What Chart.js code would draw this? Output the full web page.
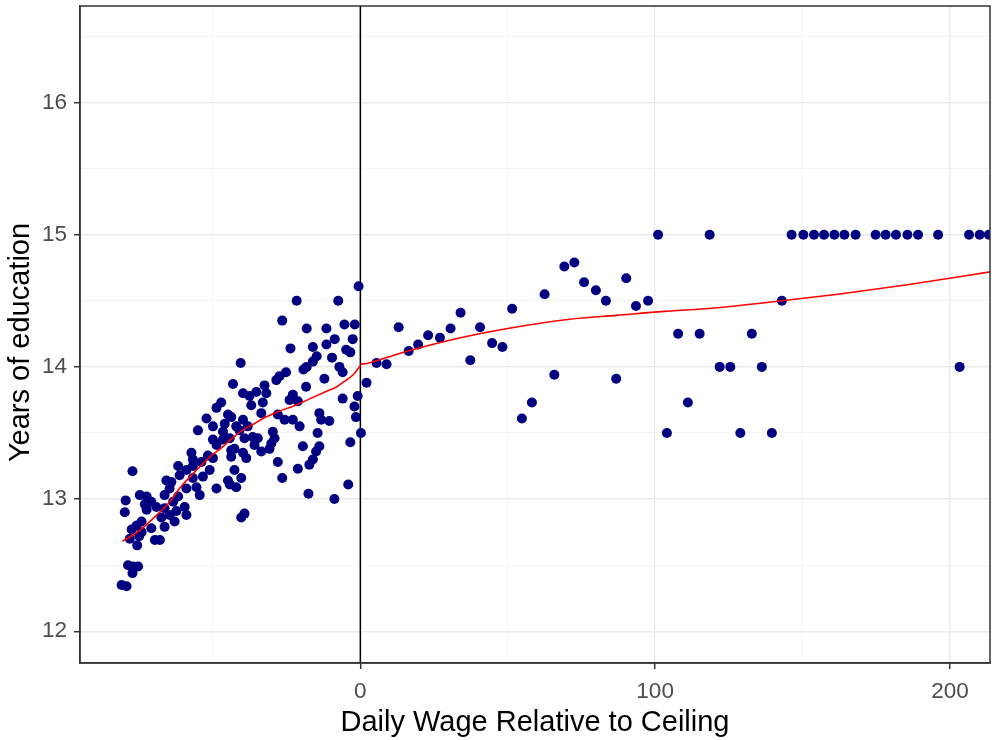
<!DOCTYPE html>
<html><head><meta charset="utf-8">
<script src="https://cdn.jsdelivr.net/npm/chart.js@4.4.0/dist/chart.umd.min.js"></script>
<style>html,body{margin:0;padding:0;background:#fff;overflow:hidden;}</style>
</head><body>
<canvas id="c" width="995" height="740" style="display:block;width:995px;height:740px"></canvas>
<script>
// ---- tick values ----
const xTicks = [0, 100, 200];
const xMinor = [-50, 50, 150];
const yTicks = [12, 13, 14, 15, 16];
const yMinor = [12.5, 13.5, 14.5, 15.5, 16.5];
const xRange = [-95.1, 213.6];
const yRange = [11.76, 16.73];
const vlineAt = 0;
const xTitle = 'Daily Wage Relative to Ceiling';
const yTitle = 'Years of education';

// ---- binned scatter: wage relative to ceiling vs years of education ----
const wage = [
 -0.6,-21.6,-7.5,-26.5,-18.2,-11.5,-5.4,-1.9,-2.6,-8.7,-11.5,-16.1,-23.7,-4.8,-3.4,-9.6,-14.8,-16.1,-18.2,-19.3,-40.6,-7.1,-6.0,-25.2,-27.4,-12.2,
 -28.5,-43.2,-18.4,-32.5,-35.3,-39.8,-31.9,-37.6,-22.9,-24.0,-21.2,-33.1,-37.0,-0.9,-6.0,-2.0,-1.5,-33.6,-28.0,-25.7,-22.9,-20.6,-13.9,-13.3,-10.5,-39.8,-42.1,-43.8,-44.3,-38.2,-36.5,-34.8,-29.7,-29.1,-30.2,-14.5,0.2,-35.9,-33.6,-30.8,-42.7,-19.5,-13.9,-15.0,-3.4,-38.7,-43.8,-28.0,-16.1,-17.3,-42.7,-21.2,-26.5,-44.3,-17.6,-4.1,-8.8,-39.3,-40.4,
 -47.2,-48.8,-44.9,-52.2,-46.0,-50.0,-55.1,-46.6,-50.0,-41.0,-39.3,-46.6,-43.8,-48.8,-51.7,-57.3,-56.8,-53.9,-50.0,-39.8,-61.8,-59.0,-56.8,-51.1,-65.8,-61.3,-56.8,-53.4,-44.9,-40.4,-64.7,-59.0,-55.6,-48.8,-42.1,-66.4,-61.8,-54.5,
 -77.3,-64.1,-79.6,-79.9,-74.8,-72.5,-70.9,-73.1,-72.5,-69.2,-66.4,-63.5,-62.4,-59.6,-59.0,-64.7,-67.5,-63.0,-66.4,-70.9,-74.2,-75.9,-77.6,-74.2,-78.2,-75.0,-75.7,-69.7,-68.0,-78.8,-77.1,-75.4,-77.3,-81.0,-79.3,
 5.5,8.9,2.1,13,16.4,19.6,23,27,30.6,34,37.3,40.6,44.7,48.2,51.5,54.8,58.2,62.5,65.8,69.2,72.6,75.9,79.9,83.3,86.8,90.2,93.5,97.6,101,104,107.8,111.1,115.1,118.5,121.9,125.5,128.9,132.8,136.2,139.6,143,146.3,150.3,153.9,157.3,160.8,164.2,168,174.8,178.2,181.7,185.6,189.2,196,203.3,206.5,210.1,213.2
];
const edu = [
 14.61,14.50,14.50,14.35,14.29,14.29,14.32,14.32,14.21,14.21,14.17,14.15,14.14,14.13,14.11,14.07,14.08,14.04,14.00,13.98,14.03,14.00,13.96,13.96,13.93,13.91,
 13.90,13.87,13.85,13.86,13.81,13.80,13.80,13.78,13.79,13.75,13.74,13.73,13.71,13.78,13.76,13.70,13.62,13.65,13.64,13.60,13.60,13.55,13.65,13.60,13.59,13.60,13.55,13.62,13.46,13.55,13.47,13.46,13.51,13.46,13.42,13.50,13.50,13.41,13.36,13.38,13.38,13.40,13.40,13.36,13.43,13.31,13.32,13.28,13.30,13.26,13.22,13.23,13.16,13.11,13.04,13.11,13.00,12.89,12.86,
 13.73,13.69,13.64,13.61,13.57,13.55,13.52,13.51,13.45,13.52,13.46,13.45,13.37,13.41,13.33,13.35,13.30,13.28,13.31,13.35,13.25,13.22,13.25,13.22,13.14,13.18,13.16,13.17,13.14,13.16,13.08,13.08,13.09,13.08,13.09,13.03,13.02,13.03,
 13.21,13.13,12.99,12.90,13.03,13.02,12.98,12.96,12.92,12.94,12.93,12.98,12.91,12.94,12.88,12.88,12.86,12.83,12.79,12.78,12.83,12.80,12.77,12.75,12.70,12.72,12.65,12.69,12.69,12.50,12.49,12.49,12.44,12.35,12.34,
 14.03,14.02,13.88,14.30,14.12,14.17,14.24,14.22,14.29,14.41,14.05,14.30,14.18,14.15,14.44,13.61,13.73,14.55,13.94,14.76,14.79,14.64,14.58,14.50,13.91,14.67,14.46,14.50,15,13.5,14.25,13.73,14.25,15,14,14,13.5,14.25,14,13.5,14.5,15,15,15,15,15,15,15,15,15,15,15,15,15,14,15,15,15
];

// ---- local fits, left and right of the ceiling ----
const fitLeftX = [-80.7,-75,-70,-65,-61,-56,-51,-47,-44,-40,-36,-33,-28,-22,-17,-12,-8,-5.4,-2,0];
const fitLeftY = [12.68,12.76,12.86,12.97,13.09,13.21,13.32,13.39,13.45,13.52,13.57,13.61,13.66,13.71,13.76,13.81,13.85,13.89,13.95,14.01];
const fitRightX = [0,3,13,30,50,71,87,103,117,143,162,185,214];
const fitRightY = [14.02,14.03,14.10,14.20,14.29,14.36,14.39,14.42,14.44,14.50,14.55,14.62,14.72];

const FONT = "'Liberation Sans', Arial, sans-serif";
const zip = (xs, ys) => xs.map((v, i) => ({x: v, y: ys[i]}));
const buildTicks = (major, minor) => [...major, ...minor].sort((a, b) => a - b).map(v => ({value: v}));
const isMajor = (arr, v) => arr.some(m => Math.abs(m - v) < 1e-9);

const frame = {
  id: 'frame',
  beforeDatasetsDraw(chart) {
    const {ctx, chartArea: a, scales: {x}} = chart;
    const px = x.getPixelForValue(vlineAt);
    ctx.save();
    ctx.strokeStyle = '#000';
    ctx.lineWidth = 1.5;
    ctx.beginPath(); ctx.moveTo(px, a.top); ctx.lineTo(px, a.bottom); ctx.stroke();
    ctx.restore();
  },
  afterDraw(chart) {
    const {ctx, chartArea: a} = chart;
    ctx.save();
    ctx.strokeStyle = '#333333';
    ctx.lineWidth = 1.5;
    ctx.strokeRect(a.left, a.top, a.right - a.left, a.bottom - a.top);
    // y axis title (rotated)
    ctx.fillStyle = '#000';
    ctx.font = '29px ' + FONT;
    ctx.textAlign = 'center';
    ctx.textBaseline = 'alphabetic';
    ctx.translate(28.5, (a.top + a.bottom) / 2 + 8);
    ctx.rotate(-Math.PI / 2);
    ctx.fillText(yTitle, 0, 0);
    ctx.restore();
  }
};

function axisOpts(major, minor, range, isX) {
  return {
    type: 'linear',
    min: range[0], max: range[1],
    afterBuildTicks: s => { s.ticks = buildTicks(major, minor); },
    afterFit: s => {
      if (isX) s.height = 77; else s.width = 80;
      s.paddingTop = 0; s.paddingBottom = 0; s.paddingLeft = 0; s.paddingRight = 0;
    },
    ticks: {
      autoSkip: false, maxRotation: 0,
      padding: isX ? 9 : 7,
      color: '#4D4D4D',
      font: {family: FONT, size: 22.5},
      callback: v => isMajor(major, v) ? String(v) : ''
    },
    grid: {
      color: c => isMajor(major, c.tick.value) ? '#EBEBEB' : '#F3F3F3',
      lineWidth: c => isMajor(major, c.tick.value) ? 1.4 : 0.8,
      tickColor: c => isMajor(major, c.tick.value) ? '#333333' : 'rgba(0,0,0,0)',
      tickLength: 6,
      tickWidth: 1.5
    },
    border: {display: true, color: '#333333', width: 1.5},
    title: {
      display: isX,
      text: isX ? xTitle : yTitle,
      color: '#000',
      font: {family: FONT, size: 29},
      padding: {top: 0, bottom: 0}
    }
  };
}

new Chart(document.getElementById('c'), {
  type: 'scatter',
  data: {
    datasets: [
      {type: 'line', data: zip(fitLeftX, fitLeftY), borderColor: '#FF0000', borderWidth: 1.6,
       pointRadius: 0, fill: false, cubicInterpolationMode: 'monotone', clip: 0},
      {type: 'line', data: zip(fitRightX, fitRightY), borderColor: '#FF0000', borderWidth: 1.6,
       pointRadius: 0, fill: false, cubicInterpolationMode: 'monotone', clip: 0},
      {data: zip(wage, edu), backgroundColor: '#000080', borderColor: '#000080', borderWidth: 0,
       pointRadius: 5, pointHoverRadius: 5, clip: 0}
    ]
  },
  options: {
    responsive: false,
    animation: false,
    devicePixelRatio: 1,
    layout: {padding: {top: 6, right: 1.5, left: 0, bottom: 0}},
    plugins: {legend: {display: false}, tooltip: {enabled: false}},
    events: [],
    scales: {
      x: axisOpts(xTicks, xMinor, xRange, true),
      y: axisOpts(yTicks, yMinor, yRange, false)
    }
  },
  plugins: [frame]
});
</script>
</body></html>
